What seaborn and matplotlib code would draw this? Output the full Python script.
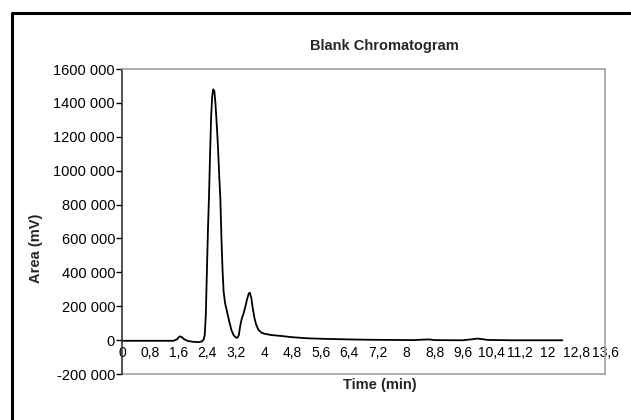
import seaborn as sns
import matplotlib.pyplot as plt
import matplotlib.ticker as mticker
from matplotlib.lines import Line2D
import pandas as pd

time_min = [0.0, 0.5, 1.0, 1.45, 1.55, 1.62, 1.68, 1.75, 1.85, 2.0, 2.15, 2.25,
            2.30, 2.33, 2.36, 2.39, 2.42, 2.45, 2.48, 2.51, 2.54, 2.57, 2.60, 2.63,
            2.66, 2.70, 2.74, 2.77, 2.80, 2.83, 2.86, 2.90, 2.96, 3.02, 3.08, 3.14,
            3.20, 3.25, 3.29, 3.33, 3.37, 3.42, 3.47, 3.52, 3.57, 3.60, 3.64, 3.68,
            3.73, 3.78, 3.84, 3.92, 4.0, 4.2, 4.5, 4.8, 5.2, 5.6, 6.0, 6.4, 7.0,
            7.6, 8.2, 8.5, 8.65, 8.8, 9.6, 9.9, 10.0, 10.1, 10.3, 11.0, 12.4]
area_mv = [-4000, -4000, -4000, -4000, 5000, 22000, 18000, 5000, -5000, -10000, -12000, -8000,
           5000, 30000, 150000, 400000, 650000, 850000, 1100000, 1320000, 1440000, 1480000, 1470000, 1400000,
           1300000, 1150000, 960000, 830000, 600000, 420000, 290000, 220000, 165000, 110000, 60000, 30000,
           16000, 14000, 30000, 85000, 125000, 155000, 195000, 240000, 275000, 280000, 250000, 190000,
           130000, 90000, 62000, 45000, 38000, 30000, 24000, 17000, 11000, 8000, 6000, 4000, 2000,
           1000, 0, 3000, 4000, 0, -1000, 6000, 9000, 7000, 1000, -1000, -1000]

x_ticks = [0, 0.8, 1.6, 2.4, 3.2, 4, 4.8, 5.6, 6.4, 7.2, 8, 8.8, 9.6, 10.4, 11.2, 12, 12.8, 13.6]
y_ticks = [-200000, 0, 200000, 400000, 600000, 800000, 1000000, 1200000, 1400000, 1600000]

df = pd.DataFrame({'Time': time_min, 'Area': area_mv})

sns.set_style("white")
plt.rcParams['font.family'] = ['Liberation Sans', 'DejaVu Sans']

fig = plt.figure(figsize=(6.31, 4.20), dpi=100)
ax = fig.add_axes([122/631, 46/420, 483/631, 305/420])

sns.lineplot(x='Time', y='Area', data=df, color='black', linewidth=1.3, ax=ax)

ax.set_xlim(0, 13.6)
ax.set_ylim(-200000, 1600000)
ax.set_xticks(x_ticks)
ax.set_yticks(y_ticks)
ax.xaxis.set_major_formatter(mticker.FuncFormatter(lambda v, p: f"{v:g}".replace('.', ',')))
ax.yaxis.set_major_formatter(mticker.FuncFormatter(
    lambda v, p: "0" if v == 0 else f"{int(v / 1000)} 000"))

# x axis crosses at zero like the original spreadsheet chart
ax.spines['bottom'].set_position(('data', 0))
ax.spines['bottom'].set_visible(False)
for s in ['top', 'right']:
    ax.spines[s].set_color('#a0a0a0')
    ax.spines[s].set_linewidth(1.2)
ax.spines['left'].set_color('#333333')
ax.spines['left'].set_linewidth(1.2)
ax.axhline(-200000, color='#a0a0a0', linewidth=1.2, clip_on=False)

ax.tick_params(axis='x', length=0, pad=4, labelsize=10, colors='black')
ax.tick_params(axis='y', length=4, width=1, direction='out', left=True, pad=1,
               labelsize=10.5, colors='black')

ax.set_xlabel('')
ax.set_ylabel('')
fig.text(384/631, 1 - 46/420, 'Blank Chromatogram', ha='center', va='center',
         fontsize=10.5, fontweight='bold')
fig.text(380/631, 1 - 385/420, 'Time (min)', ha='center', va='center',
         fontsize=10.5, fontweight='bold')
fig.text(36/631, 1 - 248/420, 'Area (mV)', ha='center', va='center',
         rotation=90, fontsize=10.5, fontweight='bold')

# outer frame of the original figure, cut at right and bottom
fig.add_artist(Line2D([12/631, 12/631, 1.0], [0.0, 1 - 13/420, 1 - 13/420],
                      transform=fig.transFigure, color='black', linewidth=2.2))

fig.savefig('out.png', dpi=100)
